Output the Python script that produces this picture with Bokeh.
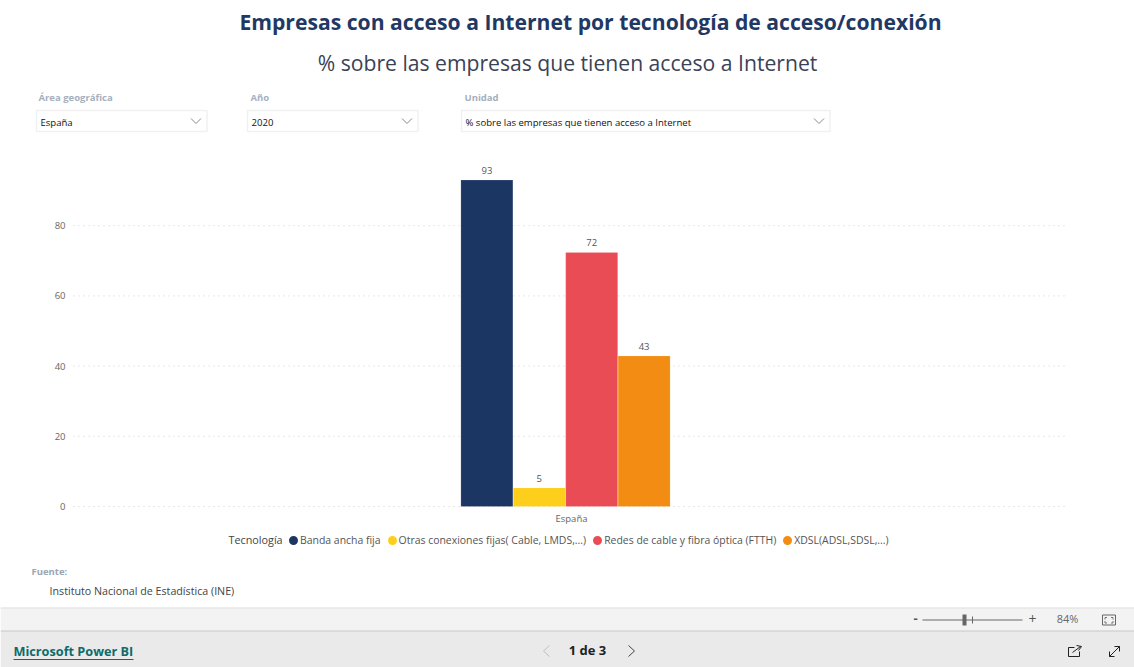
from bokeh.plotting import figure
from bokeh.embed import file_html
from bokeh.resources import INLINE
from bokeh.models import (ColumnDataSource, Range1d, Label, BoxAnnotation, Arrow, Legend, LegendItem, FixedTicker)
from bokeh.core.properties import value

TITLE = "Empresas con acceso a Internet por tecnología de acceso/conexión"
SUBTITLE = "% sobre las empresas que tienen acceso a Internet"
AREA = "España"
TECHS = ["Banda ancha fija", "Otras conexiones fijas( Cable, LMDS,...)",
         "Redes de cable y fibra óptica (FTTH)", "XDSL(ADSL,SDSL,...)"]
VALUES = [93.0, 5.3, 72.4, 42.9]
VALUE_LABELS = ["93", "5", "72", "43"]
COLORS = ["#1C3664", "#FDCE1A", "#E94C55", "#F28C13"]
Y_TICKS = [0, 20, 40, 60, 80]

W, H = 1134, 667
FONT = "Open Sans"
ZERO_Y = 506      # page pixel of value 0
PX_PER_UNIT = 3.51
BAR_W = 52.4
GROUP_CENTRE = 565
AXIS_X = 571
GRID_START, GRID_END = 73, 1068

p = figure(width=W, height=H, output_backend="svg", toolbar_location=None,
           x_range=Range1d(0, W),
           y_range=Range1d((ZERO_Y - H) / PX_PER_UNIT, ZERO_Y / PX_PER_UNIT),
           min_border=0)
p.outline_line_color = None
p.xgrid.visible = False
p.ygrid.visible = False
p.yaxis.ticker = FixedTicker(ticks=Y_TICKS)
p.xaxis.ticker = FixedTicker(ticks=[AXIS_X])
p.xaxis.major_label_overrides = {AXIS_X: AREA}
p.yaxis.fixed_location = 75
p.xaxis.fixed_location = 0
for ax in (p.xaxis[0], p.yaxis[0]):
    ax.axis_line_color = None
    ax.major_tick_line_color = None
    ax.minor_tick_line_color = None
    ax.major_tick_out = 0
    ax.major_tick_in = 0
    ax.major_label_text_font = FONT
    ax.major_label_text_font_size = "9.5px"
    ax.major_label_text_color = "#666666"
p.yaxis.major_label_standoff = 10
p.xaxis.major_label_standoff = 5

p.segment(x0=[GRID_START] * len(Y_TICKS), x1=[GRID_END] * len(Y_TICKS), y0=Y_TICKS, y1=Y_TICKS,
          line_color="#d0d0d0", line_dash="1 4", line_width=1, level="underlay")

items = []
for i, (t, v, s, c) in enumerate(zip(TECHS, VALUES, VALUE_LABELS, COLORS)):
    cx = GROUP_CENTRE + BAR_W * (i - 1.5)
    src = ColumnDataSource(dict(x=[cx], y=[v], lab=[s]))
    p.vbar(x="x", top="y", width=BAR_W - 0.4, source=src, fill_color=c, line_color="#FFFFFF", line_alpha=0.15, line_width=1)
    p.text(x="x", y="y", text="lab", source=src, text_align="center",
           text_baseline="bottom", y_offset=-6, text_font=value(FONT), text_font_size="9.5px", text_color="#555555")
    r = p.scatter(x=[float("nan")], y=[float("nan")], size=4, marker="circle", fill_color=c, line_color=c, line_width=5)
    items.append(LegendItem(label=t, renderers=[r]))

def box(l, t, r, b, fill, line=None, lw=1):
    p.add_layout(BoxAnnotation(left=l, right=r, top=H - t, bottom=H - b,
                               left_units="screen", right_units="screen", top_units="screen", bottom_units="screen",
                               fill_color=fill, fill_alpha=1, line_color=line, line_width=lw, line_alpha=1 if line else 0,
                               level="annotation"))

def seg(x0, y0, x1, y1, color="#888888", lw=1):
    p.add_layout(Arrow(end=None, x_start=x0, y_start=H - y0, x_end=x1, y_end=H - y1,
                       start_units="screen", end_units="screen", line_color=color, line_width=lw))

def lab(x, y, text, size, color, weight="normal", align="left", font=FONT):
    p.add_layout(Label(x=x, y=H - y + 1, x_units="screen", y_units="screen", text=text,
                       text_font=font, text_font_size=f"{size}px", text_color=color, text_font_style=weight,
                       text_align=align, text_baseline="middle"))

lab(590, 22, TITLE, 21.15, "#1F3864", "bold", "center")
lab(567, 63, SUBTITLE, 21.15, "#3A4256", "normal", "center")

for (l, r, tx, name, val) in [(36, 206.5, 38, "Área geográfica", AREA), (247, 417.5, 250, "Año", "2020"),
                              (461, 829.5, 464, "Unidad", SUBTITLE)]:
    lab(tx, 98, name, 9.5, "#A5B0BE", "bold")
    box(l, 110, r, 131, "#FFFFFF", "#F1F1F1", 1.5)
    lab(l + 4, 122.5, val, 9.55, "#111111")
    seg(r - 16, 118, r - 11, 123)
    seg(r - 11, 123, r - 6, 118)

lab(31, 572, "Fuente:", 9.5, "#9AA5B1", "bold")
lab(49, 591, "Instituto Nacional de Estadística (INE)", 10.7, "#444444")
lab(228, 540, "Tecnología", 10.8, "#444444")

# bottom chrome
box(0, 607, 1134, 630, "#F3F3F3")
seg(0, 607.5, 1134, 607.5, "#E0E0E0")
box(0, 630, 1134, 667, "#EAEAEA")
seg(0, 630.5, 1134, 630.5, "#C8C8C8")
lab(13, 651, "Microsoft Power BI", 12.7, "#0E6B6B", "bold")
seg(13, 659, 133, 659, "#0E6B6B")
lab(587, 650, "1 de 3", 13, "#222222", "bold", "center")
seg(549, 645, 543, 650.5, "#C0C0C0"); seg(543, 650.5, 549, 656, "#C0C0C0")
seg(628, 645, 634, 650.5, "#444444"); seg(634, 650.5, 628, 656, "#444444")
lab(915, 619, "-", 13, "#555555", "bold", "center")
seg(922, 619.5, 1022, 619.5, "#666666")
box(962, 614, 966, 625, "#666666")
seg(972, 616, 972, 623, "#666666")
lab(1032, 619, "+", 14, "#555555", "normal", "center")
lab(1067, 619, "84%", 11, "#666666", "normal", "center")
# fit-to-page icon: frame with inner corner brackets
box(1102, 614.5, 1115, 624.5, "#F3F3F3", "#666666")
seg(1104.5, 619, 1104.5, 617, "#777777"); seg(1104.5, 617, 1106.5, 617, "#777777")
seg(1112.5, 619, 1112.5, 617, "#777777"); seg(1112.5, 617, 1110.5, 617, "#777777")
seg(1104.5, 620.5, 1104.5, 622.5, "#777777"); seg(1104.5, 622.5, 1106.5, 622.5, "#777777")
seg(1112.5, 620.5, 1112.5, 622.5, "#777777"); seg(1112.5, 622.5, 1110.5, 622.5, "#777777")
# share icon
box(1068, 647, 1079, 656, "#EAEAEA", "#222222")
box(1074, 644, 1081, 651, "#EAEAEA")
seg(1072, 652, 1080, 646, "#222222")
seg(1076, 645, 1081, 646, "#222222"); seg(1081, 646, 1078, 650, "#222222")
# expand icon
seg(1109, 656, 1119, 646, "#222222")
seg(1114, 646, 1119, 646, "#222222"); seg(1119, 646, 1119, 651, "#222222")
seg(1109, 651, 1109, 656, "#222222"); seg(1109, 656, 1114, 656, "#222222")

legend = Legend(items=items, orientation="horizontal", location=(288, H - 547),
                label_text_font=FONT, label_text_font_size="10.45px", label_text_color="#555555",
                glyph_width=10, glyph_height=10, label_standoff=2, spacing=6, padding=0, margin=0,
                border_line_color=None, background_fill_alpha=0)
p.add_layout(legend, "center")

open("out.html", "w").write(file_html(p, INLINE))
